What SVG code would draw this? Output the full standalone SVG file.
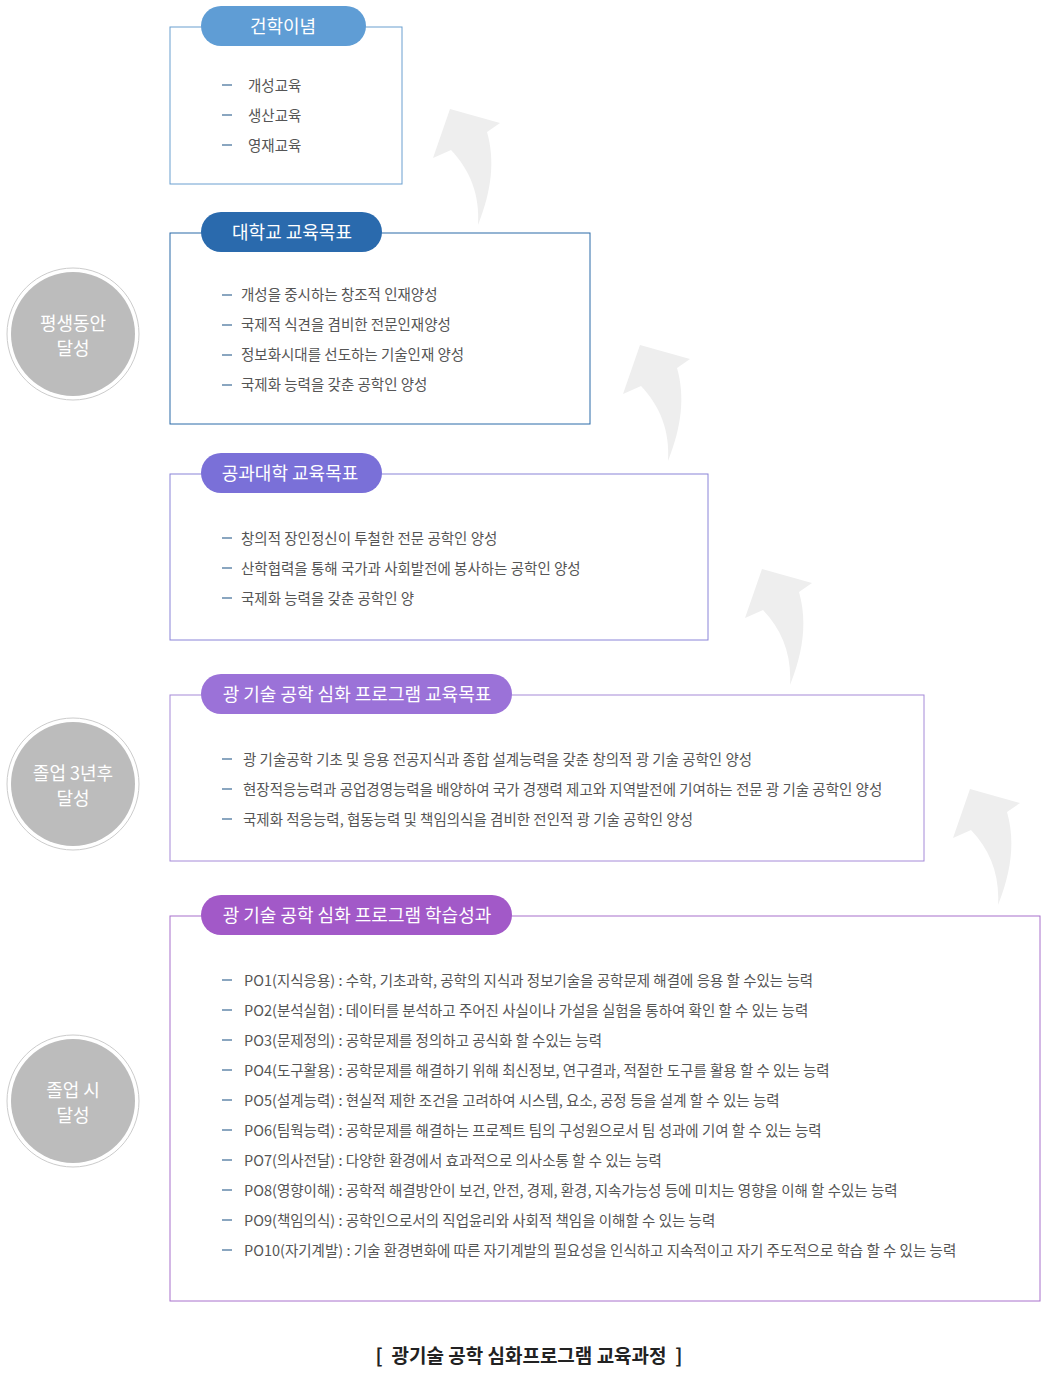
<svg xmlns="http://www.w3.org/2000/svg" width="1052" height="1384" viewBox="0 0 1052 1384">
<defs>
<style>
text{font-family:"Noto Sans CJK KR","Noto Sans",sans-serif}
.it{font-size:14.5px;fill:#555}
.d{stroke:#8aa6c0;stroke-width:2}
.pt{font-size:18px;fill:#fff;text-anchor:middle}
.ct{font-size:18px;fill:#fff;text-anchor:middle}
.box{fill:#fff;stroke-width:1}
.arr{fill:#eeeeee}
</style>
<path id="ar" class="arr" d="M998,905 C1012,870 1015,840 1007,812 L1020,803 L970,789 L953,838 L971,830 C990,850 1000,875 998,905 Z"/>
<g id="dash"><line class="d" x1="222" y1="0" x2="232" y2="0"/></g>
</defs>
<rect width="1052" height="1384" fill="#fff"/>
<g id="connectors">
<use href="#ar" transform="translate(-520,-680)"/>
<use href="#ar" transform="translate(-330,-444)"/>
<use href="#ar" transform="translate(-208,-220)"/>
<use href="#ar"/>
</g>
<g id="c1"><circle cx="73" cy="334" r="66" fill="#fff" stroke="#ccc"/><circle cx="73" cy="334" r="62" fill="#bcbcbc"/><text class="ct" x="73" y="330">평생동안</text><text class="ct" x="73" y="355">달성</text></g>
<g id="c2"><circle cx="73" cy="784" r="66" fill="#fff" stroke="#ccc"/><circle cx="73" cy="784" r="62" fill="#bcbcbc"/><text class="ct" x="73" y="780">졸업 3년후</text><text class="ct" x="73" y="805">달성</text></g>
<g id="c3"><circle cx="73" cy="1101" r="66" fill="#fff" stroke="#ccc"/><circle cx="73" cy="1101" r="62" fill="#bcbcbc"/><text class="ct" x="73" y="1097">졸업 시</text><text class="ct" x="73" y="1122">달성</text></g>
<g id="n1"><rect class="box" x="170" y="27" width="232" height="157" stroke="#6a9fd0"/><rect x="201" y="6" width="165" height="40" rx="20" fill="#5f9dd5"/><text class="pt" x="283" y="33">건학이념</text>
<use href="#dash" y="85"/><text class="it" x="248" y="91">개성교육</text>
<use href="#dash" y="115"/><text class="it" x="248" y="121">생산교육</text>
<use href="#dash" y="145"/><text class="it" x="248" y="151">영재교육</text></g>
<g id="n2"><rect class="box" x="170" y="233" width="420" height="191" stroke="#2a6aa8"/><rect x="201" y="212" width="181" height="40" rx="20" fill="#2a6aad"/><text class="pt" x="292" y="239">대학교 교육목표</text>
<use href="#dash" y="295"/><text class="it" x="241" y="300">개성을 중시하는 창조적 인재양성</text>
<use href="#dash" y="325"/><text class="it" x="241" y="330">국제적 식견을 겸비한 전문인재양성</text>
<use href="#dash" y="355"/><text class="it" x="241" y="360">정보화시대를 선도하는 기술인재 양성</text>
<use href="#dash" y="385"/><text class="it" x="241" y="390">국제화 능력을 갖춘 공학인 양성</text></g>
<g id="n3"><rect class="box" x="170" y="474" width="538" height="166" stroke="#8a84d8"/><rect x="201" y="453" width="181" height="40" rx="20" fill="#7a70d8"/><text class="pt" x="290" y="480">공과대학 교육목표</text>
<use href="#dash" y="538"/><text class="it" x="241" y="544">창의적 장인정신이 투철한 전문 공학인 양성</text>
<use href="#dash" y="568"/><text class="it" x="241" y="574">산학협력을 통해 국가과 사회발전에 봉사하는 공학인 양성</text>
<use href="#dash" y="598"/><text class="it" x="241" y="604">국제화 능력을 갖춘 공학인 양</text></g>
<g id="n4"><rect class="box" x="170" y="695" width="754" height="166" stroke="#a58ad8"/><rect x="201" y="674" width="311" height="40" rx="20" fill="#9b72d8"/><text class="pt" x="357" y="701">광 기술 공학 심화 프로그램 교육목표</text>
<use href="#dash" y="759"/><text class="it" x="243" y="765">광 기술공학 기초 및 응용 전공지식과 종합 설계능력을 갖춘 창의적 광 기술 공학인 양성</text>
<use href="#dash" y="789"/><text class="it" x="243" y="795">현장적응능력과 공업경영능력을 배양하여 국가 경쟁력 제고와 지역발전에 기여하는 전문 광 기술 공학인 양성</text>
<use href="#dash" y="819"/><text class="it" x="243" y="825">국제화 적응능력, 협동능력 및 책임의식을 겸비한 전인적 광 기술 공학인 양성</text></g>
<g id="n5"><rect class="box" x="170" y="916" width="870" height="385" stroke="#a870cc"/><rect x="201" y="895" width="311" height="40" rx="20" fill="#a259c8"/><text class="pt" x="357" y="922">광 기술 공학 심화 프로그램 학습성과</text>
<use href="#dash" y="980"/><text class="it" x="244" y="986">PO1(지식응용) : 수학, 기초과학, 공학의 지식과 정보기술을 공학문제 해결에 응용 할 수있는 능력</text>
<use href="#dash" y="1010"/><text class="it" x="244" y="1016">PO2(분석실험) : 데이터를 분석하고 주어진 사실이나 가설을 실험을 통하여 확인 할 수 있는 능력</text>
<use href="#dash" y="1040"/><text class="it" x="244" y="1046">PO3(문제정의) : 공학문제를 정의하고 공식화 할 수있는 능력</text>
<use href="#dash" y="1070"/><text class="it" x="244" y="1076">PO4(도구활용) : 공학문제를 해결하기 위해 최신정보, 연구결과, 적절한 도구를 활용 할 수 있는 능력</text>
<use href="#dash" y="1100"/><text class="it" x="244" y="1106">PO5(설계능력) : 현실적 제한 조건을 고려하여 시스템, 요소, 공정 등을 설계 할 수 있는 능력</text>
<use href="#dash" y="1130"/><text class="it" x="244" y="1136">PO6(팀웍능력) : 공학문제를 해결하는 프로젝트 팀의 구성원으로서 팀 성과에 기여 할 수 있는 능력</text>
<use href="#dash" y="1160"/><text class="it" x="244" y="1166">PO7(의사전달) : 다양한 환경에서 효과적으로 의사소통 할 수 있는 능력</text>
<use href="#dash" y="1190"/><text class="it" x="244" y="1196">PO8(영향이해) :  공학적 해결방안이 보건, 안전, 경제, 환경, 지속가능성 등에 미치는 영향을 이해 할 수있는 능력</text>
<use href="#dash" y="1220"/><text class="it" x="244" y="1226">PO9(책임의식) : 공학인으로서의 직업윤리와 사회적 책임을 이해할 수 있는 능력</text>
<use href="#dash" y="1250"/><text class="it" x="244" y="1256">PO10(자기계발) : 기술 환경변화에 따른 자기계발의 필요성을 인식하고 지속적이고 자기 주도적으로 학습 할 수 있는 능력</text></g>
<text x="529" y="1363" font-size="19" font-weight="bold" fill="#222" text-anchor="middle" xml:space="preserve">[  광기술 공학 심화프로그램 교육과정  ]</text>
</svg>
